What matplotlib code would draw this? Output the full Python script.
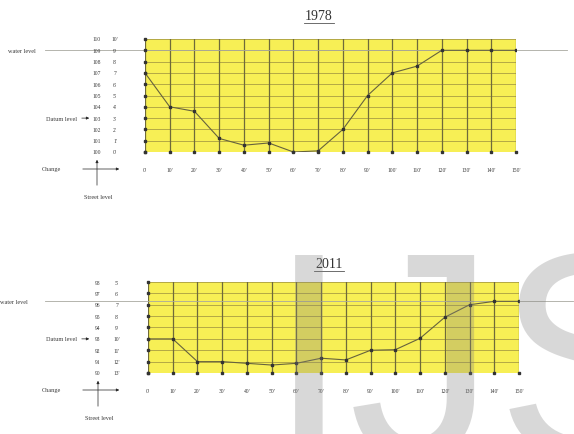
import numpy as np
import matplotlib.pyplot as plt
import matplotlib.transforms as mtransforms
from matplotlib.lines import Line2D

# chainage along the section (feet)
chainage = [0, 10, 20, 30, 40, 50, 60, 70, 80, 90, 100, 110, 120, 130, 140, 150]
chain_labels = ["0'", "10'", "20'", "30'", "40'", "50'", "60'", "70'",
                "80'", "90'", "100'", "110'", "120'", "130'", "140'", "150'"]

# 1978 section
bed_1978 = [107, 104, 103.6, 101.2, 100.6, 100.8, 100, 100.1,
            102, 105, 107, 107.6, 109, 109, 109, 109]
elev_1978 = [110, 109, 108, 107, 106, 105, 104, 103, 102, 101, 100]
feet_1978 = ["10'", "9'", "8'", "7'", "6'", "5'", "4'", "3'", "2'", "1'", "0'"]
water_1978 = 109
datum_1978 = 103

# 2011 section
bed_2011 = [93, 93, 91, 91, 90.85, 90.7, 90.85, 91.3,
            91.15, 92, 92.05, 93.05, 94.9, 96, 96.3, 96.3]
elev_2011 = [98, 97, 96, 95, 94, 93, 92, 91, 90]
feet_2011 = ["5'", "6'", "7'", "8'", "9'", "10'", "11'", "12'", "13'"]
water_2011 = 96.3
datum_2011 = 93

W, H = 574, 435
fig = plt.figure(figsize=(W / 100, H / 100), dpi=100)
plt.rcParams['font.family'] = ['Liberation Serif', 'DejaVu Serif']

yellow = '#f7ef55'
txt = '#3a3a3a'


def section(box, bed, elev, feet, water, datum, cols, left_px):
    l, t, r, b = box
    ax = fig.add_axes([l / W, (H - b) / H, (r - l) / W, (b - t) / H])
    ax.set_facecolor(yellow)
    for s in ax.spines.values():
        s.set_visible(False)
    lo, hi = min(elev), max(elev)
    ax.set_xlim(0, 150)
    ax.set_ylim(lo, hi)
    for e in elev:
        ax.axhline(e, color='#b3a845', lw=0.7, zorder=1)
    for c in chainage:
        ax.axvline(c, color='#6f6a3a', lw=0.9, zorder=1)
    # dots along left and bottom edges
    ax.plot([0] * len(elev), elev, 's', ms=1.6, color='#333', clip_on=False, zorder=3)
    ax.plot(chainage, [lo] * len(chainage), 's', ms=1.6, color='#333', clip_on=False, zorder=3)
    # bed profile
    ax.plot(chainage, bed, '-', color='#66623e', lw=0.8, zorder=4)
    ax.plot(chainage, bed, 's', ms=1.6, color='#333', zorder=5)

    ax.set_yticks([])
    ax.set_xticks(chainage, chain_labels, fontsize=4, color=txt)
    ax.tick_params(axis='x', length=0, pad=10.5)

    # water level line
    px_per_ft = (r - l) / 150.0
    right_px = min(W, r + 51 + (l - 145))
    ax.plot([-(l - 45) / px_per_ft, 150 + (right_px - r) / px_per_ft],
            [water, water], color='#a8a8a0', lw=0.6, clip_on=False, zorder=2)
    ax.annotate('water level', xy=(left_px, water), xycoords=('figure pixels', 'data'),
                fontsize=4.5, color=txt, ha='left', va='center', annotation_clip=False)

    # elevation / feet columns
    tr = mtransforms.blended_transform_factory(fig.transFigure, ax.transData)
    for e, f in zip(elev, feet):
        ax.text(cols[0] / W, e, str(e), transform=tr, fontsize=4, color=txt,
                ha='center', va='center')
        ax.text(cols[1] / W, e, f, transform=tr, fontsize=4, color=txt,
                ha='center', va='center')

    # datum level
    ax.annotate('Datum level', xy=(77, datum), xycoords=('figure pixels', 'data'),
                fontsize=4.5, color=txt, ha='right', va='center', annotation_clip=False)
    ax.annotate('', xy=(92, datum), xytext=(79, datum),
                xycoords=('figure pixels', 'data'), textcoords=('figure pixels', 'data'),
                arrowprops=dict(arrowstyle='-|>', lw=0.5, color='#222', mutation_scale=4),
                annotation_clip=False)

    # change / street level markers
    yc = b + 17
    fig.text(42 / W, (H - yc) / H, 'Change', fontsize=4.5, color=txt, ha='left', va='center')
    ax.annotate('', xy=(122, H - yc), xytext=(80, H - yc), xycoords='figure pixels',
                arrowprops=dict(arrowstyle='-|>', lw=0.5, color='#222', mutation_scale=4))
    xv = cols[0]
    ax.annotate('', xy=(xv, H - (b + 5)), xytext=(xv, H - (b + 36)), xycoords='figure pixels',
                arrowprops=dict(arrowstyle='-|>', lw=0.5, color='#222', mutation_scale=4))
    fig.text((xv + 1) / W, (H - (b + 45)) / H, 'Street level', fontsize=4.5, color=txt,
             ha='center', va='center')
    return ax


section((145, 40, 516, 153), bed_1978, elev_1978, feet_1978,
        water_1978, datum_1978, (97, 115), 8)
section((148, 283, 519, 374), bed_2011, elev_2011, feet_2011,
        water_2011, datum_2011, (98, 117), 0)


def year_title(label, xc, yc):
    fig.text(xc / W, (H - yc) / H, label, fontsize=10, color='#333',
             ha='center', va='center')
    fig.add_artist(Line2D([(xc - 15) / W, (xc + 15) / W],
                          [(H - yc - 7) / H, (H - yc - 7) / H], color='#555', lw=0.6))


year_title('1978', 319, 17)
year_title('2011', 329, 265)

# watermark
fig.text(268 / W, -22 / H, 'IJSER', fontsize=212, family='Liberation Sans',
         color='#808080', alpha=0.3, ha='left', va='baseline')

plt.savefig('out.png', dpi=100)
